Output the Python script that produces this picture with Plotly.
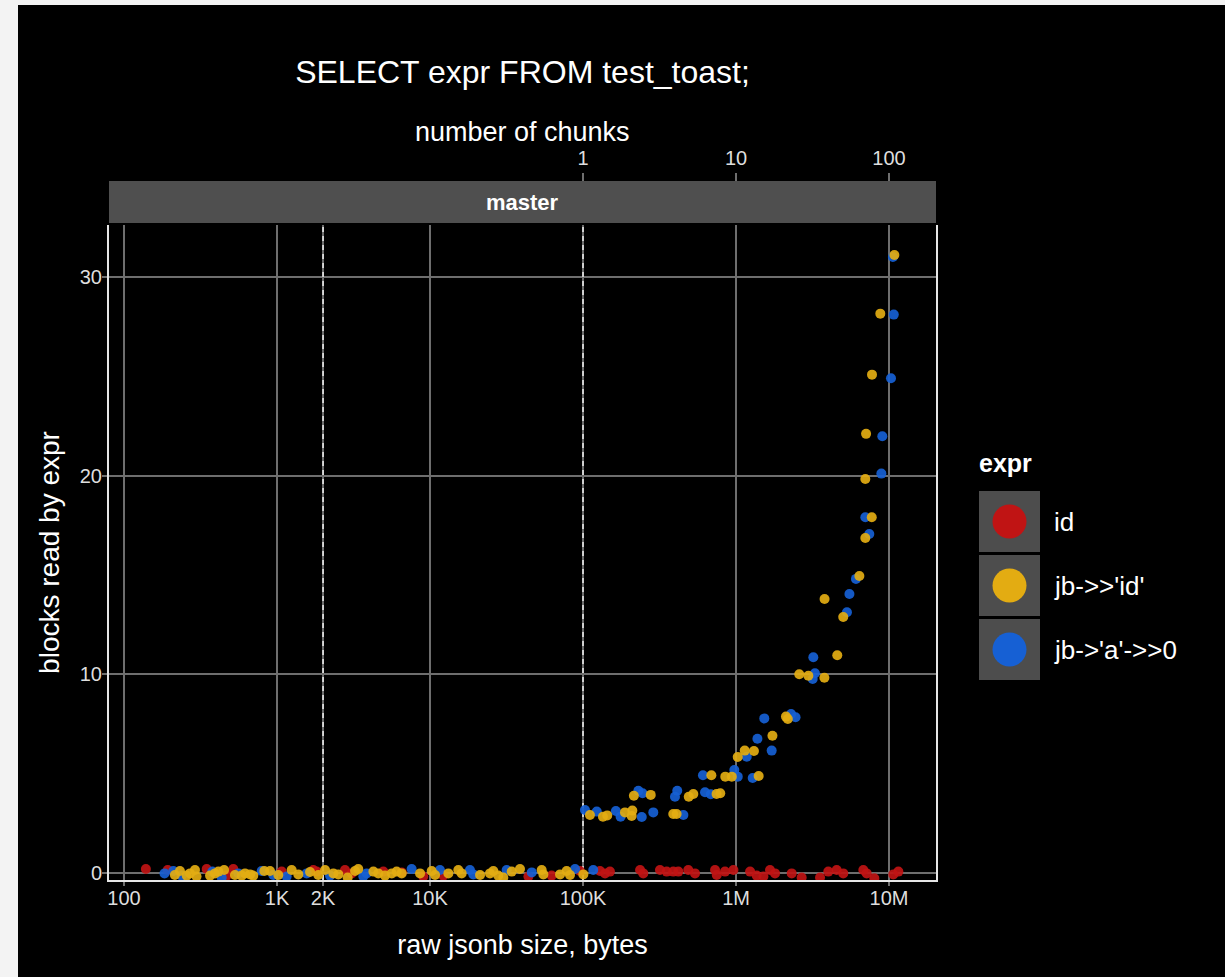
import plotly.graph_objects as go

# ---------------- data ----------------
series_names = ["id", "jb->>'id'", "jb->'a'->>0"]
series_colors = ["#c01414", "#e3ac12", "#1660d4"]

id_size = [139, 193, 347, 469, 518, 1073, 1727, 1816, 2782, 3076, 4955,
           6531, 9036, 12218, 43954, 62373, 95499, 129122, 139316, 149968, 236048,
           247742, 318420, 352371, 389045, 419759, 487528, 539511, 729416, 748169,
           847227, 961612, 1235947, 1364583, 1510080, 1667247, 1798871, 2312064,
           2685344, 3540149, 4008667, 4549880, 5023426, 6792036, 7144963, 8016781,
           10665961, 11508003]
id_blocks = [0.20, 0.15, 0.20, -0.13, 0.20, 0.07, 0.15, 0.07, 0.15, -0.02, 0.07,
             0.03, -0.18, -0.13, -0.18, -0.13, 0.10, 0.10, -0.02, 0.07, 0.15,
             -0.02, 0.15, 0.07, 0.07, 0.07, 0.15, -0.02, 0.15, -0.10,
             0.07, 0.15, 0.07, -0.13, -0.18, 0.15, -0.02, -0.02,
             -0.23, -0.23, 0.07, 0.15, -0.02, 0.15, -0.02, -0.27,
             -0.07, 0.07]

jbid_size = [215, 232, 257, 270, 291, 298, 365, 393, 414, 451, 531, 588, 618, 667,
             700, 826, 900, 1020, 1247, 1378, 1644, 1862, 2061, 2335, 2517, 2897,
             3236, 3397, 4266, 4592, 5080, 5623, 6053, 6531,
             8610, 10255, 10789, 13183, 15311, 16106, 21232, 24660, 25942, 27925,
             30130, 34198, 38726, 53703, 55081, 70795, 78163, 82224, 100461,
             111000, 135000, 144000, 188000, 208000, 210000, 215000, 277000, 389000,
             409000, 491000, 526000, 690000, 746000, 789000, 851000, 938000,
             1026000, 1140000, 1310000, 1406000, 1730000, 2120000, 2180000, 2590000,
             2970000, 3780000, 3790000, 4590000, 5020000, 6400000, 7000000, 7000000,
             7080000, 7710000, 7740000, 8770000, 10840000]
jbid_blocks = [-0.10, 0.10, -0.13, -0.02, 0.15, -0.18, -0.13, -0.02, 0.07, 0.15, -0.10,
               -0.13, -0.02, -0.07, -0.13, 0.10, 0.10, -0.10, 0.15, -0.07, 0.05, -0.10,
               0.15, -0.02, -0.07, -0.23, 0.10, 0.20, 0.07, -0.02, -0.13, -0.02, 0.07,
               -0.02,
               -0.02, 0.10, -0.10, -0.02, 0.15, -0.02, -0.10, -0.02, 0.10, -0.13,
               -0.23, 0.07, 0.20, 0.15, -0.07, -0.07, 0.10, -0.10, -0.07,
               2.92, 2.83, 2.90, 3.05, 2.87, 3.14, 3.89, 3.93, 2.97,
               2.97, 3.84, 3.98, 4.92, 3.98, 4.01, 4.85, 4.85,
               5.84, 6.16, 6.14, 4.88, 6.91, 7.87, 7.75, 10.0,
               9.93, 9.83, 13.79, 10.96, 12.88, 14.95, 16.86, 19.83,
               22.1, 17.9, 25.08, 28.15, 31.1]

jba_size = [184, 210, 238, 378, 435, 559, 794, 946, 1157, 1563, 2220, 3664, 3855,
            7586, 11614, 18238, 19187, 31696, 46238, 88716, 116681,
            103000, 123000, 164000, 176000, 230000, 242000, 245000, 288000, 399000,
            413000, 453000, 608000, 627000, 684000, 975000, 1026000, 1175000,
            1285000, 1380000, 1530000, 1710000, 2290000, 2450000, 3170000, 3200000,
            3280000, 5310000, 5510000, 6080000, 7000000, 7430000, 8910000, 9040000,
            10300000, 10740000, 10600000]
jba_blocks = [-0.02, 0.10, -0.13, 0.07, -0.23, -0.02, 0.10, -0.10, -0.18, -0.02, -0.13,
              -0.18, -0.02,
              0.20, 0.15, 0.15, -0.07, 0.15, 0.03, 0.20, 0.15,
              3.17, 3.09, 3.12, 2.83, 4.14, 2.82, 4.01, 3.05, 3.84,
              4.14, 2.92, 4.92, 4.06, 3.96, 5.18, 4.85, 5.85,
              4.78, 6.76, 7.78, 6.16, 8.0, 7.84, 9.76, 10.86,
              10.05, 13.12, 14.04, 14.8, 17.9, 17.06, 20.1, 21.98,
              24.9, 28.1, 31.0]

x_tickvals = [100, 1000, 2000, 10000, 100000, 1000000, 10000000]
x_ticktext = ["100", "1K", "2K", "10K", "100K", "1M", "10M"]
chunk_tickvals = [1, 10, 100]
chunk_ticktext = ["1", "10", "100"]
y_tickvals = [0, 10, 20, 30]
ref_lines = [2000, 100000]       # dashed reference sizes
bytes_per_chunk_log = 5          # 1 chunk at 100K on the top axis
x_range_log = [1.902, 7.307]
y_range = [-0.352, 32.61]

# ---------------- geometry ----------------
W, H = 1225, 977
L, R, T, B = 109, 289, 181, 97
PW, PH = W - L - R, H - T - B


def px(xpix):
    return (xpix - L) / PW


def py(ypix):
    return (H - B - ypix) / PH


panel_top = py(225)
FONT = "Liberation Sans, Arial, sans-serif"
GRID = "#6e6e6e"

fig = go.Figure()

# dashed reference lines
for v in ref_lines:
    fig.add_trace(go.Scatter(x=[v, v], y=y_range, mode="lines",
                             line=dict(color="#e8e8e8", width=1.6, dash="5px,4px"),
                             hoverinfo="skip", showlegend=False))

# data points (red, blue, yellow drawing order)
for name, xs, ys, col in [
    (series_names[0], id_size, id_blocks, series_colors[0]),
    (series_names[2], jba_size, jba_blocks, series_colors[2]),
    (series_names[1], jbid_size, jbid_blocks, series_colors[1]),
]:
    fig.add_trace(go.Scatter(x=xs, y=ys, mode="markers", name=name,
                             marker=dict(color=col, size=10, opacity=0.92, line=dict(width=0)),
                             showlegend=False))

# invisible trace for top axis
fig.add_trace(go.Scatter(x=chunk_tickvals, y=[None] * 3, xaxis="x2", mode="markers",
                         showlegend=False, hoverinfo="skip"))

shapes = []
# outer light strip (left & top)
shapes.append(dict(type="rect", xref="paper", yref="paper", x0=px(-5), x1=px(18),
                   y0=py(H + 5), y1=py(-5), fillcolor="#f3f3f3", line=dict(width=0), layer="below"))
shapes.append(dict(type="rect", xref="paper", yref="paper", x0=px(-5), x1=px(W + 5),
                   y0=py(5), y1=py(-5), fillcolor="#f3f3f3", line=dict(width=0), layer="below"))
# facet strip
shapes.append(dict(type="rect", xref="paper", yref="paper", x0=0, x1=1,
                   y0=py(223), y1=1, fillcolor="#4f4f4f", line=dict(width=0)))

annotations = [
    dict(text="<b>master</b>", xref="paper", yref="paper", x=0.5,
         y=py(202), xanchor="center", yanchor="middle", showarrow=False,
         font=dict(family=FONT, size=22, color="white")),
    dict(text="number of chunks", xref="paper", yref="paper", x=0.5,
         y=py(132), xanchor="center", yanchor="middle", showarrow=False,
         font=dict(family=FONT, size=27, color="white")),
]

# manual legend
annotations.append(dict(text="<b>expr</b>", xref="paper", yref="paper", x=px(977), y=py(463),
                        xanchor="left", yanchor="middle", showarrow=False,
                        font=dict(family=FONT, size=25, color="white")))
key_tops = [491, 555, 619]
for i, (nm, col) in enumerate(zip(series_names, series_colors)):
    t0 = key_tops[i]
    shapes.append(dict(type="rect", xref="paper", yref="paper", x0=px(979), x1=px(1040),
                       y0=py(t0 + 61), y1=py(t0), fillcolor="#4d4d4d", line=dict(width=0)))
    cy = t0 + 30.5
    shapes.append(dict(type="circle", xref="paper", yref="paper",
                       xsizemode="pixel", ysizemode="pixel",
                       xanchor=px(1009.5), yanchor=py(cy),
                       x0=-17, x1=17, y0=-17, y1=17,
                       fillcolor=col, line=dict(width=0)))
    annotations.append(dict(text=nm, xref="paper", yref="paper", x=px(1052), y=py(cy),
                            xanchor="left", yanchor="middle", showarrow=False,
                            font=dict(family=FONT, size=26, color="white")))

fig.update_layout(
    width=W, height=H,
    margin=dict(l=L, r=R, t=T, b=B, pad=0),
    paper_bgcolor="black", plot_bgcolor="black",
    showlegend=False,
    title=dict(text="SELECT expr FROM test_toast;", x=0.5, xref="paper",
               y=1 - 72 / H, yref="container", xanchor="center", yanchor="middle",
               font=dict(family=FONT, size=32, color="white")),
    font=dict(family=FONT, color="white"),
    xaxis=dict(type="log", range=x_range_log, tickvals=x_tickvals, ticktext=x_ticktext,
               showgrid=True, gridcolor=GRID, gridwidth=2, zeroline=False,
               showline=True, linecolor="#e6e6e6", linewidth=2, mirror=False,
               ticks="outside", ticklen=4, tickwidth=1.5, tickcolor=GRID,
               ticklabelstandoff=-5,
               tickfont=dict(family=FONT, size=20, color="#dedede"),
               title=dict(text="raw jsonb size, bytes", standoff=27,
                          font=dict(family=FONT, size=27, color="white")),
               anchor="y"),
    xaxis2=dict(type="log", overlaying="x", side="top", anchor="free", position=1,
                range=[x_range_log[0] - bytes_per_chunk_log, x_range_log[1] - bytes_per_chunk_log],
                tickvals=chunk_tickvals, ticktext=chunk_ticktext,
                showgrid=False, zeroline=False, showline=False,
                ticks="outside", ticklen=8, tickwidth=1.5, tickcolor=GRID,
                tickfont=dict(family=FONT, size=20, color="#dedede")),
    yaxis=dict(range=y_range, domain=[0, panel_top], tickvals=y_tickvals,
               showgrid=True, gridcolor=GRID, gridwidth=2, zeroline=False,
               showline=True, linecolor="#e6e6e6", linewidth=2, mirror=True,
               ticks="outside", ticklen=5, tickwidth=1.5, tickcolor=GRID,
               ticklabelstandoff=-4,
               tickfont=dict(family=FONT, size=20, color="#dedede"),
               title=dict(text="blocks read by expr", standoff=12,
                          font=dict(family=FONT, size=28, color="white"))),
    shapes=shapes,
    annotations=annotations,
)

fig.write_html("out.html", config={"displayModeBar": False},
               post_script="document.body.style.margin='0';document.body.style.padding='0';"
                           "document.body.style.background='#f3f3f3';")
